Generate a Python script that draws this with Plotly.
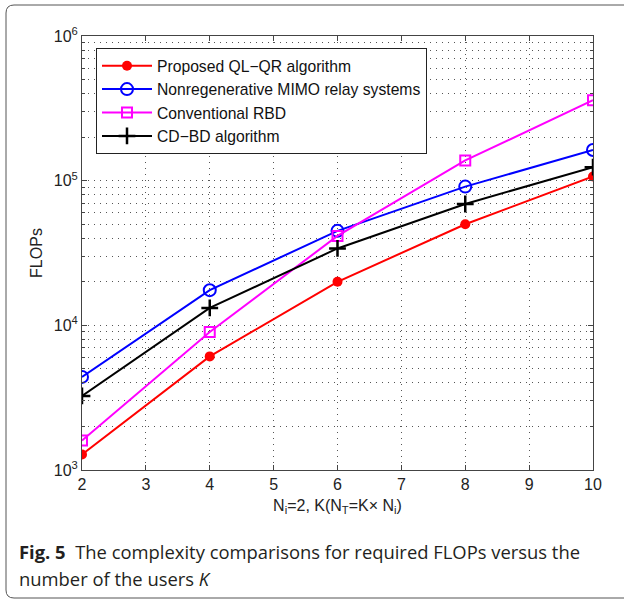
import plotly.graph_objects as go

K = [2, 4, 6, 8, 10]
ql_qr = [1280, 6100, 20000, 50000, 107000]
nonregen = [4400, 17500, 45000, 91000, 163000]
conv_rbd = [1600, 9000, 41500, 138000, 360000]
cd_bd = [3250, 13200, 34000, 69000, 124000]

names = ["Proposed QL\u2212QR algorithm", "Nonregenerative MIMO relay systems",
         "Conventional RBD", "CD\u2212BD algorithm"]
ytickvals = [1e3, 1e4, 1e5, 1e6]
yticktext = ["10<sup>3</sup>", "10<sup>4</sup>", "10<sup>5</sup>", "10<sup>6</sup>"]

W, H = 624, 599
L, R, T, B = 82, 593, 36, 470
pw, ph = R - L, B - T
FONT = "Liberation Sans"

def px(x):
    return (x - L) / pw

def py(y):
    return (B - y) / ph

fig = go.Figure()
fig.add_trace(go.Scatter(x=K, y=ql_qr, name=names[0], mode="lines+markers",
                         line=dict(color="#ff0000", width=2),
                         marker=dict(symbol="circle", size=10, color="#ff0000")))
fig.add_trace(go.Scatter(x=K, y=nonregen, name=names[1], mode="lines+markers",
                         line=dict(color="#0000ff", width=2),
                         marker=dict(symbol="circle-open", size=12, color="#0000ff", line=dict(width=2))))
fig.add_trace(go.Scatter(x=K, y=conv_rbd, name=names[2], mode="lines+markers",
                         line=dict(color="#ff00ff", width=2),
                         marker=dict(symbol="square-open", size=10, color="#ff00ff", line=dict(width=2))))
fig.add_trace(go.Scatter(x=K, y=cd_bd, name=names[3], mode="lines+markers",
                         line=dict(color="#000000", width=2),
                         marker=dict(symbol="cross-thin-open", size=12, color="#000000", line=dict(width=2.5))))

# rounded frame
r = 8
x0, x1, y0, y1 = 6, 640, 5, 598
path = (f"M {px(x0+r)},{py(y0)} L {px(x1-r)},{py(y0)} Q {px(x1)},{py(y0)} {px(x1)},{py(y0+r)} "
        f"L {px(x1)},{py(y1-r)} Q {px(x1)},{py(y1)} {px(x1-r)},{py(y1)} "
        f"L {px(x0+r)},{py(y1)} Q {px(x0)},{py(y1)} {px(x0)},{py(y1-r)} "
        f"L {px(x0)},{py(y0+r)} Q {px(x0)},{py(y0)} {px(x0+r)},{py(y0)} Z")
fig.add_shape(type="path", path=path, xref="paper", yref="paper",
              line=dict(color="#555555", width=1), layer="below")

fig.add_annotation(x=px(17), y=py(551), xref="paper", yref="paper", xanchor="left", yanchor="middle",
                   text="<b>Fig. 5</b>  The complexity comparisons for required FLOPs versus the",
                   showarrow=False, font=dict(family="Open Sans", size=18.4, color="#231f20"))
fig.add_annotation(x=px(17), y=py(578), xref="paper", yref="paper", xanchor="left", yanchor="middle",
                   text="number of the users <i>K</i>",
                   showarrow=False, font=dict(family="Open Sans", size=18.4, color="#231f20"))

GRID = "#555555"
DASH = "1px,5px"
axis_common = dict(showline=True, linecolor="#444444", linewidth=1, mirror="ticks",
                   ticks="inside", ticklen=5, tickcolor="#444444",
                   showgrid=True, gridcolor=GRID, griddash=DASH, gridwidth=1,
                   zeroline=False, tickfont=dict(family=FONT, size=16, color="#222222"))

fig.update_layout(
    width=W, height=H,
    margin=dict(l=L, r=W - R, t=T, b=H - B, autoexpand=False),
    paper_bgcolor="white", plot_bgcolor="white",
    showlegend=True,
    legend=dict(x=px(96), y=py(48), xanchor="left", yanchor="top",
                bgcolor="white", bordercolor="#222222", borderwidth=1,
                font=dict(family=FONT, size=15.7, color="#111111"),
                itemwidth=50, tracegroupgap=0),
    xaxis=dict(range=[2, 10], dtick=1, tick0=2,
               title=dict(text="N<sub>i</sub>=2, K(N<sub>T</sub>=K\u00d7 N<sub>i</sub>)",
                          font=dict(family=FONT, size=16, color="#222222"),
                          standoff=7),
               **axis_common),
    yaxis=dict(type="log", range=[3, 6], tickvals=ytickvals, ticktext=yticktext,
               title=dict(text="FLOPs", font=dict(family=FONT, size=16, color="#222222"),
                          standoff=7),
               minor=dict(showgrid=True, gridcolor=GRID, griddash=DASH, gridwidth=1,
                          ticks="inside", ticklen=3, tickcolor="#444444",
                          tickvals=[m * 10 ** e for e in range(3, 6) for m in range(2, 10)]),
               **axis_common),
)

fig.write_html("out.html", config={"displayModeBar": False},
               post_script="document.body.style.margin='0';")
